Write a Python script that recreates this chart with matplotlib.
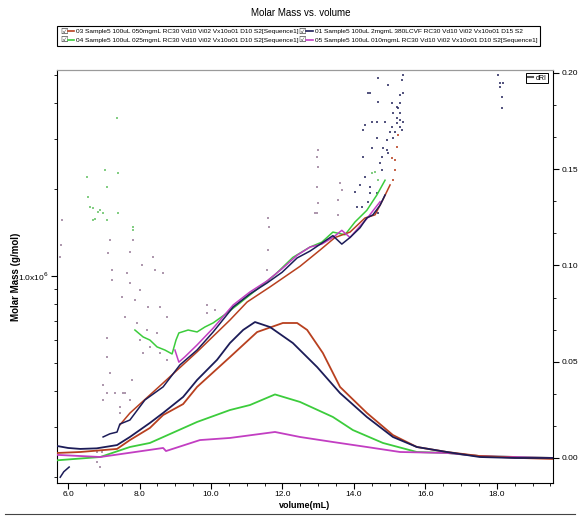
import matplotlib
matplotlib.use("Agg")
import matplotlib.pyplot as plt
from matplotlib.lines import Line2D
from matplotlib.text import Text
from matplotlib.legend_handler import HandlerBase
from matplotlib.ticker import FixedLocator, LogLocator, NullFormatter, MultipleLocator, FormatStrFormatter

plt.rcParams["font.family"] = ["Liberation Sans", "DejaVu Sans"]

# sample names (legend order: 03, 04 | 01, 05)
name01 = "01 Sample5 100uL 2mgmL 380LCVF RC30 Vd10 Vi02 Vx10o01 D15 S2"
name03 = "03 Sample5 100uL 050mgmL RC30 Vd10 Vi02 Vx10o01 D10 S2[Sequence1]"
name04 = "04 Sample5 100uL 025mgmL RC30 Vd10 Vi02 Vx10o01 D10 S2[Sequence1]"
name05 = "05 Sample5 100uL 010mgmL RC30 Vd10 Vi02 Vx10o01 D10 S2[Sequence1]"

# molar mass traces (volume mL, g/mol)
mm01_head_vol = [5.78, 5.88, 6.03]
mm01_head_mass = [2.00e5, 2.09e5, 2.17e5]
mm01_vol = [6.98, 7.17, 7.37, 7.45, 7.73, 8.15, 8.66, 9.13, 9.61, 10.06, 10.62, 11.09, 11.57,
            11.99, 12.41, 12.77, 13.10, 13.41, 13.66, 13.89, 14.17, 14.36, 14.53, 14.73, 14.87]
mm01_mass = [2.76e5, 2.83e5, 2.87e5, 3.06e5, 3.16e5, 3.71e5, 4.12e5, 4.91e5, 5.53e5, 6.39e5, 7.80e5,
             8.66e5, 9.46e5, 1.03e6, 1.155e6, 1.22e6, 1.30e6, 1.38e6, 1.29e6, 1.36e6, 1.47e6, 1.59e6,
             1.63e6, 1.76e6, 1.91e6]
mm03_vol = [7.45, 7.73, 8.66, 9.61, 10.53, 11.01, 11.65, 12.49, 13.05, 13.47, 13.89, 14.31, 14.59,
            14.81, 15.01]
mm03_mass = [3.04e5, 3.34e5, 4.25e5, 5.45e5, 7.03e5, 8.12e5, 9.16e5, 1.08e6, 1.23e6, 1.36e6, 1.42e6,
             1.59e6, 1.63e6, 1.84e6, 2.07e6]
mm04_vol = [7.87, 8.10, 8.29, 8.49, 8.71, 8.91, 9.02, 9.10, 9.36, 9.61, 9.83, 10.06, 10.45, 10.81,
            11.37, 11.79, 12.29, 12.77, 13.10, 13.41, 13.75, 14.03, 14.36, 14.64, 14.87]
mm04_mass = [6.49e5, 6.14e5, 5.99e5, 5.67e5, 5.53e5, 5.36e5, 5.99e5, 6.34e5, 6.49e5, 6.39e5, 6.65e5,
             6.87e5, 7.44e5, 8.06e5, 9.16e5, 1.01e6, 1.16e6, 1.26e6, 1.31e6, 1.42e6, 1.39e6, 1.54e6,
             1.69e6, 1.91e6, 2.15e6]
mm05_vol = [8.99, 9.10, 9.27, 9.61, 10.06, 10.62, 11.09, 11.57, 11.99, 12.41, 12.77, 13.10, 13.41,
            13.66, 13.89, 14.17, 14.36, 14.59, 14.73]
mm05_mass = [5.53e5, 5.02e5, 5.24e5, 5.76e5, 6.59e5, 7.93e5, 8.80e5, 9.61e5, 1.06e6, 1.18e6, 1.26e6,
             1.29e6, 1.36e6, 1.44e6, 1.36e6, 1.49e6, 1.58e6, 1.72e6, 1.81e6]

# scattered molar mass points (volume, mass)
dots_green = [(7.37, 3.54e6), (7.03, 2.33e6), (7.40, 2.28e6), (6.53, 2.21e6), (7.09, 2.04e6),
              (6.56, 1.88e6), (6.62, 1.74e6), (6.70, 1.72e6), (6.90, 1.69e6), (6.84, 1.67e6),
              (6.98, 1.66e6), (6.76, 1.58e6), (6.70, 1.56e6), (7.09, 1.56e6), (7.40, 1.66e6),
              (7.82, 1.48e6), (7.82, 1.44e6), (14.59, 2.30e6), (14.50, 2.28e6), (14.67, 2.15e6)]
dots_gray = [(7.82, 1.33e6), (7.17, 1.33e6), (7.12, 1.20e6), (7.73, 1.21e6), (7.23, 1.05e6),
             (7.65, 1.02e6), (8.07, 1.09e6), (8.38, 1.16e6), (8.66, 1.02e6), (8.43, 1.05e6),
             (7.23, 9.68e5), (7.73, 9.46e5), (8.01, 8.94e5), (7.51, 8.45e5), (7.87, 8.25e5),
             (8.24, 7.80e5), (8.57, 7.80e5), (8.77, 7.21e5), (7.59, 7.21e5), (7.93, 6.87e5),
             (8.21, 6.49e5), (8.49, 6.34e5), (8.01, 5.99e5), (8.29, 5.67e5), (8.10, 5.40e5),
             (8.57, 5.40e5), (8.77, 5.11e5), (7.09, 6.09e5), (7.09, 5.24e5), (7.17, 4.60e5),
             (7.09, 3.93e5), (7.54, 3.93e5), (7.79, 4.35e5), (6.98, 4.19e5), (6.98, 3.71e5),
             (7.31, 3.93e5), (7.45, 3.51e5), (7.59, 3.93e5), (7.73, 3.71e5), (7.45, 3.34e5),
             (6.81, 2.45e5), (6.95, 2.45e5), (6.81, 2.26e5), (6.90, 2.17e5), (9.89, 7.93e5),
             (9.89, 7.44e5), (10.11, 7.62e5), (11.59, 1.59e6), (11.62, 1.48e6), (11.59, 1.23e6),
             (11.57, 1.05e6), (5.83, 1.56e6), (5.80, 1.28e6), (5.78, 1.16e6), (12.99, 2.74e6),
             (12.97, 2.59e6), (12.99, 2.39e6), (12.97, 2.04e6), (12.97, 1.66e6), (12.91, 1.66e6),
             (12.99, 1.79e6), (13.61, 2.10e6), (13.66, 1.99e6), (13.55, 1.84e6), (13.55, 1.63e6)]
dots_navy = [(14.67, 4.87e6), (14.95, 4.60e6), (14.39, 4.32e6), (14.45, 4.32e6), (14.67, 4.02e6),
             (15.06, 3.99e6), (15.29, 3.99e6), (15.20, 3.86e6), (15.09, 3.68e6), (15.37, 4.99e6),
             (15.34, 4.80e6), (15.37, 4.32e6), (15.29, 4.25e6), (15.23, 3.83e6), (15.29, 3.68e6),
             (15.20, 3.54e6), (15.29, 3.48e6), (15.37, 3.43e6), (15.20, 3.40e6), (15.29, 3.29e6),
             (15.34, 3.21e6), (15.15, 3.16e6), (15.01, 3.16e6), (15.06, 3.29e6), (14.87, 3.43e6),
             (14.64, 3.43e6), (14.50, 3.43e6), (14.31, 3.34e6), (14.25, 3.21e6), (14.64, 3.01e6),
             (14.92, 2.97e6), (15.09, 3.01e6), (14.81, 2.78e6), (14.92, 2.74e6), (14.95, 2.67e6),
             (14.78, 2.59e6), (14.50, 2.78e6), (14.25, 2.59e6), (14.73, 2.47e6), (14.78, 2.33e6),
             (14.31, 2.21e6), (14.17, 2.07e6), (14.45, 1.94e6), (14.64, 1.94e6), (14.03, 1.96e6),
             (14.45, 2.04e6), (14.08, 1.74e6), (14.22, 1.74e6), (14.39, 1.81e6), (14.67, 1.66e6),
             (18.03, 4.99e6), (18.08, 4.68e6), (18.17, 4.68e6), (18.08, 4.53e6), (18.14, 4.19e6),
             (18.14, 3.83e6)]
dots_red = [(15.06, 2.57e6), (15.15, 2.33e6), (15.09, 2.15e6), (15.15, 2.53e6), (15.20, 2.80e6),
            (15.23, 3.09e6)]

# dRI traces (volume mL, detector signal)
dri01_vol = [5.70, 6.00, 6.34, 6.80, 7.37, 7.73, 8.29, 8.66, 9.22, 9.61, 10.17, 10.53, 10.90, 11.23,
             11.65, 12.29, 12.97, 13.61, 14.36, 15.09, 15.76, 16.60, 17.52, 18.50, 19.57]
dri01 = [0.0062, 0.0052, 0.0047, 0.0050, 0.0067, 0.0109, 0.0182, 0.0234, 0.0317, 0.0405, 0.0510,
         0.0597, 0.0665, 0.0706, 0.0680, 0.0597, 0.0472, 0.0337, 0.0213, 0.0109, 0.0057, 0.0031,
         0.0005, 0.0, 0.0]
dri03_vol = [5.70, 6.34, 7.37, 7.73, 8.29, 8.66, 9.22, 9.61, 10.53, 11.29, 12.01, 12.41, 12.69, 13.13,
             13.61, 14.36, 15.09, 15.76, 16.60, 17.52, 18.64, 19.57]
dri03 = [0.0026, 0.0031, 0.0047, 0.0093, 0.0156, 0.0223, 0.0280, 0.0369, 0.0524, 0.0654, 0.0701,
         0.0701, 0.0665, 0.0545, 0.0369, 0.0234, 0.0119, 0.0057, 0.0031, 0.0010, 0.0, -0.0005]
dri04_vol = [5.70, 6.90, 7.73, 8.29, 9.61, 10.53, 11.09, 11.79, 12.49, 13.41, 13.97, 14.81, 15.76,
             16.60, 17.52, 19.57]
dri04 = [-0.0012, 0.0005, 0.0057, 0.0078, 0.0187, 0.0249, 0.0275, 0.0330, 0.0291, 0.0213, 0.0145,
         0.0078, 0.0031, 0.0026, 0.0010, 0.0]
dri05_vol = [5.70, 6.90, 8.29, 8.66, 8.74, 9.69, 10.53, 11.79, 12.49, 13.41, 14.36, 15.29, 16.60,
             17.52, 19.57]
dri05 = [0.0016, 0.0005, 0.0042, 0.0052, 0.0036, 0.0093, 0.0104, 0.0135, 0.0109, 0.0083, 0.0057,
         0.0031, 0.0026, 0.0010, 0.0]

c01 = "#1c1c58"
c03 = "#b8401f"
c04 = "#3ccc3c"
c05 = "#c23ec2"


class CheckLine(HandlerBase):
    # checkbox followed by a short coloured line, like the instrument software
    def create_artists(self, legend, orig_handle, xdescent, ydescent, width, height, fontsize, trans):
        box = Text(-xdescent, height / 2 - ydescent, "\u2611", fontsize=fontsize * 1.3,
                   ha="left", va="center", family="DejaVu Sans", color="#333333", transform=trans)
        line = Line2D([width * 0.55 - xdescent, width - xdescent], [height / 2 - ydescent] * 2,
                      color=orig_handle.get_color(), lw=1.2, transform=trans)
        return [box, line]


fig = plt.figure(figsize=(5.8, 5.19), dpi=100)
ax = fig.add_axes([57 / 580, 1 - 483 / 519, 496 / 580, 413 / 519])
ax2 = ax.twinx()

ax.set_yscale("log")
ax.set_xlim(5.69, 19.57)
ax.set_ylim(1.91e5, 5.19e6)
ax2.set_ylim(-0.013, 0.2015)

# molar mass
ms = 1.6
for pts, col in [(dots_gray, "#9a7f9a"), (dots_green, "#66c266"), (dots_navy, "#2a2a60"), (dots_red, c03)]:
    ax.plot([p[0] for p in pts], [p[1] for p in pts], ls="none", marker="s", ms=ms, mew=0,
            color=col, alpha=0.8)
ax.plot(mm01_head_vol, mm01_head_mass, color=c01, lw=1.1)
ax.plot(mm04_vol, mm04_mass, color=c04, lw=1.1)
ax.plot(mm03_vol, mm03_mass, color=c03, lw=1.1)
ax.plot(mm05_vol, mm05_mass, color=c05, lw=1.1)
ax.plot(mm01_vol, mm01_mass, color=c01, lw=1.1)

# dRI
ax2.plot(dri04_vol, dri04, color=c04, lw=1.3)
ax2.plot(dri05_vol, dri05, color=c05, lw=1.3)
ax2.plot(dri03_vol, dri03, color=c03, lw=1.3)
ax2.plot(dri01_vol, dri01, color=c01, lw=1.3)

# axes styling
for a in (ax, ax2):
    a.tick_params(which="major", direction="out", length=4, width=0.8, labelsize=6, pad=2)
    a.tick_params(which="minor", direction="out", length=2, width=0.6)
    a.spines["top"].set_color("#9a9a9a")
ax.spines["right"].set_visible(False)
ax2.spines["left"].set_visible(False)
ax2.spines["bottom"].set_visible(False)

ax.xaxis.set_major_locator(MultipleLocator(2))
ax.xaxis.set_minor_locator(MultipleLocator(0.5))
ax.xaxis.set_major_formatter(FormatStrFormatter("%.1f"))

ax.yaxis.set_major_locator(FixedLocator([1e6]))
ax.set_yticklabels(["1.0x10$^{6}$"])
ax.yaxis.set_minor_locator(LogLocator(base=10, subs=[2, 3, 4, 5, 6, 7, 8, 9]))
ax.yaxis.set_minor_formatter(NullFormatter())

ax2.yaxis.set_major_locator(MultipleLocator(0.05))
ax2.yaxis.set_minor_locator(MultipleLocator(0.05 / 3))
ax2.yaxis.set_major_formatter(FormatStrFormatter("%.2f"))

ax.set_xlabel("volume(mL)", fontsize=6.5, fontweight="bold")
ax.xaxis.set_label_coords(0.5, -0.044)
ax.set_ylabel("Molar Mass (g/mol)", fontsize=7, fontweight="bold")
ax.yaxis.set_label_coords(-0.073, 0.5)

fig.text(0.519, 1 - 13 / 519, "Molar Mass vs. volume", ha="center", va="center", fontsize=7)

handles = [Line2D([], [], color=c03), Line2D([], [], color=c04),
           Line2D([], [], color=c01), Line2D([], [], color=c05)]
labels = [name03, name04, name01, name05]
leg = fig.legend(handles, labels, ncol=2, loc="upper left", bbox_to_anchor=(57 / 580, 1 - 26 / 519),
                 fontsize=4.65, fancybox=False, edgecolor="black", framealpha=1, borderpad=0.45,
                 handlelength=2.2, handletextpad=0.3, columnspacing=0.0, labelspacing=0.45,
                 borderaxespad=0, handler_map={Line2D: CheckLine()})
leg.get_frame().set_linewidth(0.8)

dleg = ax2.legend([Line2D([], [], color="#555555")], ["dRI"], loc="upper right",
                  bbox_to_anchor=(0.99, 0.993), fontsize=5, fancybox=False, edgecolor="black",
                  framealpha=1, borderpad=0.25, handlelength=0.8, handletextpad=0.3, borderaxespad=0)
dleg.get_frame().set_linewidth(0.7)

fig.add_artist(Line2D([5 / 580, 575 / 580], [1 - 514 / 519] * 2, color="#444444", lw=0.8))

fig.savefig("out.png", dpi=100, facecolor="white")
